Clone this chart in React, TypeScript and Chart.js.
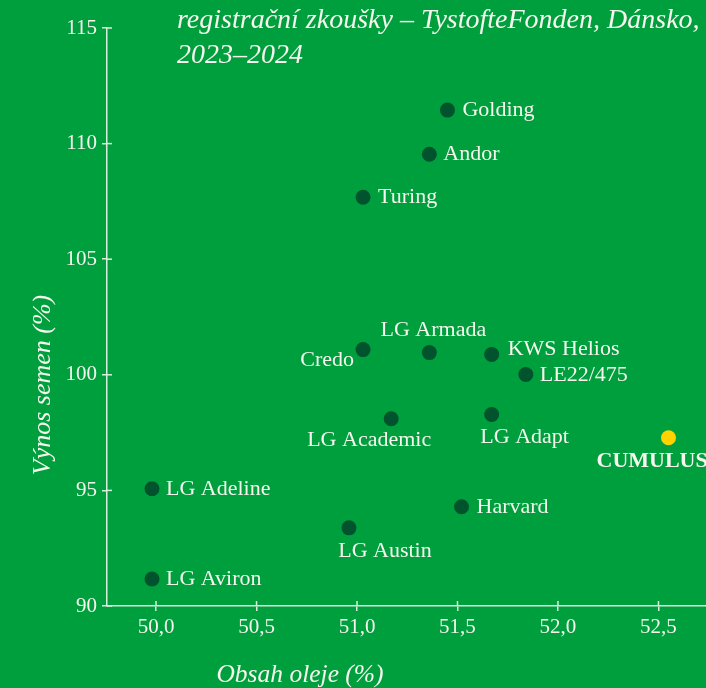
import { useEffect, useRef } from "react";
import { Chart, registerables } from "chart.js";

Chart.register(...registerables);

const varieties = [
  "Golding", "Andor", "Turing", "Credo", "LG Armada", "KWS Helios", "LE22/475",
  "LG Academic", "LG Adapt", "CUMULUS", "LG Adeline", "Harvard", "LG Austin", "LG Aviron",
];
const oilContent = [51.45, 51.36, 51.03, 51.03, 51.36, 51.67, 51.84, 51.17, 51.67, 52.55, 49.98, 51.52, 50.96, 49.98];
const seedYield = [111.45, 109.54, 107.68, 101.09, 100.96, 100.88, 100.01, 98.1, 98.28, 97.28, 95.07, 94.29, 93.38, 91.17];
const highlighted = ["CUMULUS"];
const xTickValues = [50, 50.5, 51, 51.5, 52, 52.5];
const yTickValues = [90, 95, 100, 105, 110, 115];
const titleLines = ["registrační zkoušky – TystofteFonden, Dánsko,", "2023–2024"];
const xAxisTitle = "Obsah oleje (%)";
const yAxisTitle = "Výnos semen (%)";

const BG = "#009f3d";
const DOT = "#00532c";
const HIGHLIGHT = "#ffd200";
const TEXT = "#f6f6ee";
const AXIS = "#d9eedb";
const FONT = "'Liberation Serif', 'DejaVu Serif', serif";

type Placement = { dx: number; dy: number; align: CanvasTextAlign };
const labelPlacement: Record<string, Placement> = {
  Golding: { dx: 15, dy: 0, align: "left" },
  Andor: { dx: 14, dy: 0, align: "left" },
  Turing: { dx: 15, dy: 0, align: "left" },
  Credo: { dx: -9, dy: 11, align: "right" },
  "LG Armada": { dx: 4, dy: -22, align: "center" },
  "KWS Helios": { dx: 16, dy: -5, align: "left" },
  "LE22/475": { dx: 14, dy: 1, align: "left" },
  "LG Academic": { dx: -22, dy: 21, align: "center" },
  "LG Adapt": { dx: 33, dy: 23, align: "center" },
  CUMULUS: { dx: -72, dy: 24, align: "left" },
  "LG Adeline": { dx: 14, dy: 0, align: "left" },
  Harvard: { dx: 15, dy: 0, align: "left" },
  "LG Austin": { dx: 36, dy: 23, align: "center" },
  "LG Aviron": { dx: 14, dy: 0, align: "left" },
};

const decorPlugin = {
  id: "decor",
  afterDraw(chart: any) {
    const ctx: CanvasRenderingContext2D = chart.ctx;
    const xs = chart.scales.x;
    const ys = chart.scales.y;
    ctx.save();
    // inner halves of tick marks
    ctx.strokeStyle = AXIS;
    ctx.lineWidth = 1.5;
    xTickValues.forEach((v) => {
      const px = xs.getPixelForValue(v);
      ctx.beginPath();
      ctx.moveTo(px, ys.bottom);
      ctx.lineTo(px, ys.bottom - 5);
      ctx.stroke();
    });
    yTickValues.forEach((v) => {
      const py = ys.getPixelForValue(v);
      ctx.beginPath();
      ctx.moveTo(xs.left, py);
      ctx.lineTo(xs.left + 5, py);
      ctx.stroke();
    });

    // point labels
    const meta = chart.getDatasetMeta(0);
    ctx.fillStyle = TEXT;
    ctx.textBaseline = "middle";
    varieties.forEach((name, i) => {
      const el = meta.data[i];
      const p = labelPlacement[name] || { dx: 14, dy: 0, align: "left" };
      const bold = highlighted.includes(name);
      ctx.font = `${bold ? "bold " : ""}22px ${FONT}`;
      ctx.textAlign = p.align;
      ctx.fillText(name, el.x + p.dx, el.y + p.dy);
    });

    // title
    ctx.font = `italic 28px ${FONT}`;
    ctx.textAlign = "left";
    ctx.textBaseline = "alphabetic";
    ctx.fillText(titleLines[0], 177, 28);
    ctx.fillText(titleLines[1], 177, 63);

    // axis titles
    ctx.font = `italic 25.5px ${FONT}`;
    ctx.textAlign = "center";
    ctx.fillText(xAxisTitle, 300, 682);
    ctx.save();
    ctx.font = `italic 26px ${FONT}`;
    ctx.translate(50, 385);
    ctx.rotate(-Math.PI / 2);
    ctx.fillText(yAxisTitle, 0, 0);
    ctx.restore();
    ctx.restore();
  },
};

export default function App() {
  const ref = useRef<HTMLCanvasElement>(null);
  useEffect(() => {
    if (!ref.current) return;
    const chart = new Chart(ref.current, {
      type: "scatter",
      data: {
        datasets: [
          {
            data: varieties.map((_, i) => ({ x: oilContent[i], y: seedYield[i] })),
            backgroundColor: varieties.map((n) => (highlighted.includes(n) ? HIGHLIGHT : DOT)),
            borderWidth: 0,
            pointRadius: 7.5,
            pointHoverRadius: 7.5,
          },
        ],
      },
      options: {
        animation: false,
        responsive: false,
        maintainAspectRatio: false,
        layout: { padding: { top: 28, right: 0, left: 0, bottom: 0 } },
        plugins: { legend: { display: false }, tooltip: { enabled: false }, title: { display: false } },
        scales: {
          x: {
            type: "linear",
            min: 49.756,
            max: 52.734,
            afterBuildTicks: (s: any) => {
              s.ticks = xTickValues.map((v) => ({ value: v }));
            },
            afterFit: (s: any) => {
              s.height = 82;
            },
            border: { display: true, color: AXIS, width: 1.5 },
            grid: { drawOnChartArea: false, drawTicks: true, tickLength: 5, color: AXIS, lineWidth: 1.5 },
            ticks: {
              color: TEXT,
              font: { family: FONT, size: 21 },
              padding: 4,
              autoSkip: false,
              maxRotation: 0,
              callback: (v: any) => Number(v).toFixed(1).replace(".", ","),
            },
          },
          y: {
            type: "linear",
            min: 90,
            max: 115,
            afterBuildTicks: (s: any) => {
              s.ticks = yTickValues.map((v) => ({ value: v }));
            },
            afterFit: (s: any) => {
              s.width = 107;
            },
            border: { display: true, color: AXIS, width: 1.5 },
            grid: { drawOnChartArea: false, drawTicks: true, tickLength: 5, color: AXIS, lineWidth: 1.5 },
            ticks: {
              color: TEXT,
              font: { family: FONT, size: 21 },
              padding: 5,
              autoSkip: false,
              callback: (v: any) => String(v),
            },
          },
        },
      },
      plugins: [decorPlugin],
    } as any);
    return () => chart.destroy();
  }, []);
  return (
    <div style={{ position: "fixed", left: 0, top: 0, width: 706, height: 688, background: BG, overflow: "hidden" }}>
      <canvas ref={ref} width={713} height={688} style={{ display: "block", width: 713, height: 688 }} />
    </div>
  );
}
